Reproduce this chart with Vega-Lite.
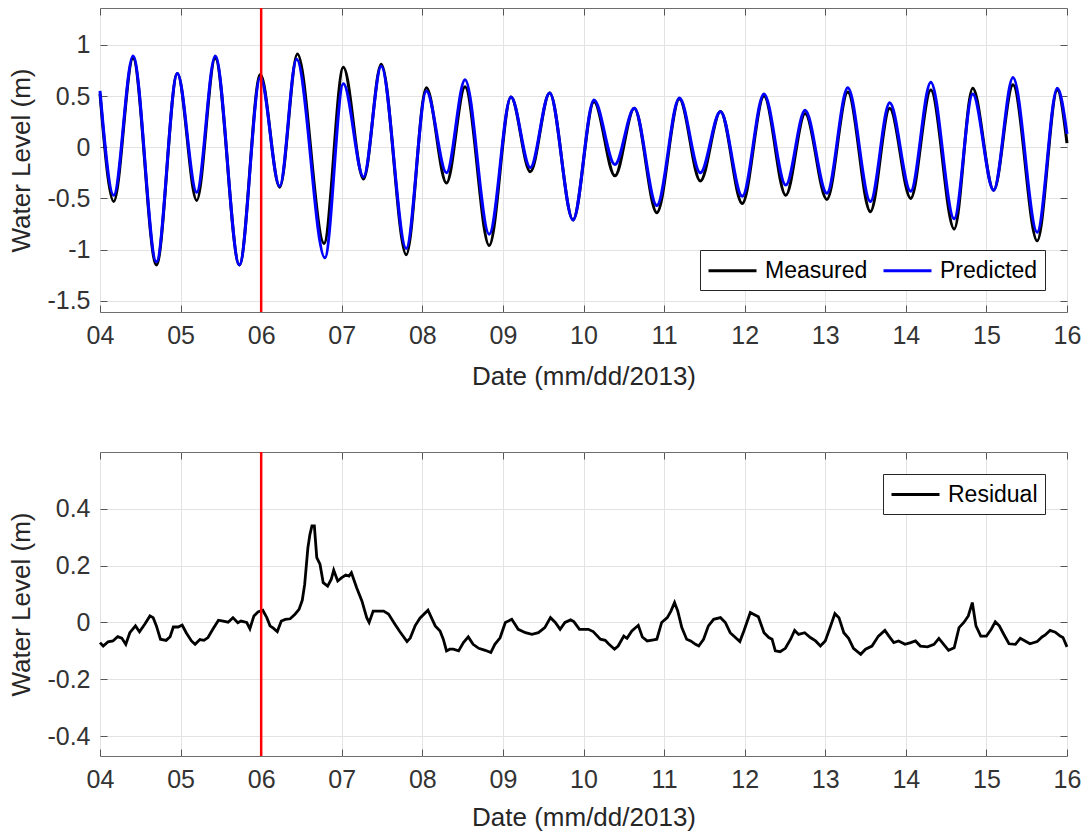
{
  "$schema": "https://vega.github.io/schema/vega-lite/v6.json",
  "padding": {"left": 8, "top": 6, "right": 2, "bottom": 2},
  "spacing": 140,
  "bounds": "flush",
  "datasets": {
    "marker": [{"day": 6}],
    "tide": [
      {"day": 4.00, "series": "Measured", "level": 0.52},
      {"day": 4.17, "series": "Measured", "level": -0.53},
      {"day": 4.41, "series": "Measured", "level": 0.87},
      {"day": 4.70, "series": "Measured", "level": -1.15},
      {"day": 4.96, "series": "Measured", "level": 0.72},
      {"day": 5.20, "series": "Measured", "level": -0.52},
      {"day": 5.43, "series": "Measured", "level": 0.87},
      {"day": 5.73, "series": "Measured", "level": -1.15},
      {"day": 5.99, "series": "Measured", "level": 0.71},
      {"day": 6.23, "series": "Measured", "level": -0.39},
      {"day": 6.45, "series": "Measured", "level": 0.91},
      {"day": 6.78, "series": "Measured", "level": -0.94},
      {"day": 7.02, "series": "Measured", "level": 0.78},
      {"day": 7.27, "series": "Measured", "level": -0.31},
      {"day": 7.49, "series": "Measured", "level": 0.81},
      {"day": 7.80, "series": "Measured", "level": -1.05},
      {"day": 8.05, "series": "Measured", "level": 0.58},
      {"day": 8.30, "series": "Measured", "level": -0.35},
      {"day": 8.53, "series": "Measured", "level": 0.59},
      {"day": 8.83, "series": "Measured", "level": -0.96},
      {"day": 9.10, "series": "Measured", "level": 0.49},
      {"day": 9.34, "series": "Measured", "level": -0.24},
      {"day": 9.58, "series": "Measured", "level": 0.53},
      {"day": 9.87, "series": "Measured", "level": -0.71},
      {"day": 10.13, "series": "Measured", "level": 0.445},
      {"day": 10.39, "series": "Measured", "level": -0.28},
      {"day": 10.63, "series": "Measured", "level": 0.38},
      {"day": 10.91, "series": "Measured", "level": -0.64},
      {"day": 11.19, "series": "Measured", "level": 0.47},
      {"day": 11.45, "series": "Measured", "level": -0.33},
      {"day": 11.70, "series": "Measured", "level": 0.35},
      {"day": 11.97, "series": "Measured", "level": -0.55},
      {"day": 12.24, "series": "Measured", "level": 0.50},
      {"day": 12.51, "series": "Measured", "level": -0.47},
      {"day": 12.75, "series": "Measured", "level": 0.33},
      {"day": 13.02, "series": "Measured", "level": -0.51},
      {"day": 13.28, "series": "Measured", "level": 0.54},
      {"day": 13.56, "series": "Measured", "level": -0.63},
      {"day": 13.80, "series": "Measured", "level": 0.38},
      {"day": 14.06, "series": "Measured", "level": -0.50},
      {"day": 14.31, "series": "Measured", "level": 0.56},
      {"day": 14.60, "series": "Measured", "level": -0.80},
      {"day": 14.83, "series": "Measured", "level": 0.575},
      {"day": 15.09, "series": "Measured", "level": -0.42},
      {"day": 15.33, "series": "Measured", "level": 0.61},
      {"day": 15.63, "series": "Measured", "level": -0.915},
      {"day": 15.88, "series": "Measured", "level": 0.56},
      {"day": 16.00, "series": "Measured", "level": 0.04},
      {"day": 4.00, "series": "Predicted", "level": 0.55},
      {"day": 4.17, "series": "Predicted", "level": -0.47},
      {"day": 4.41, "series": "Predicted", "level": 0.89},
      {"day": 4.70, "series": "Predicted", "level": -1.12},
      {"day": 4.96, "series": "Predicted", "level": 0.72},
      {"day": 5.20, "series": "Predicted", "level": -0.44},
      {"day": 5.43, "series": "Predicted", "level": 0.89},
      {"day": 5.73, "series": "Predicted", "level": -1.15},
      {"day": 5.99, "series": "Predicted", "level": 0.68},
      {"day": 6.23, "series": "Predicted", "level": -0.38},
      {"day": 6.44, "series": "Predicted", "level": 0.86},
      {"day": 6.79, "series": "Predicted", "level": -1.08},
      {"day": 7.02, "series": "Predicted", "level": 0.62},
      {"day": 7.27, "series": "Predicted", "level": -0.29},
      {"day": 7.49, "series": "Predicted", "level": 0.79},
      {"day": 7.80, "series": "Predicted", "level": -0.99},
      {"day": 8.05, "series": "Predicted", "level": 0.55},
      {"day": 8.30, "series": "Predicted", "level": -0.25},
      {"day": 8.53, "series": "Predicted", "level": 0.66},
      {"day": 8.83, "series": "Predicted", "level": -0.85},
      {"day": 9.10, "series": "Predicted", "level": 0.49},
      {"day": 9.34, "series": "Predicted", "level": -0.20},
      {"day": 9.58, "series": "Predicted", "level": 0.53},
      {"day": 9.87, "series": "Predicted", "level": -0.71},
      {"day": 10.13, "series": "Predicted", "level": 0.46},
      {"day": 10.39, "series": "Predicted", "level": -0.17},
      {"day": 10.63, "series": "Predicted", "level": 0.38},
      {"day": 10.91, "series": "Predicted", "level": -0.57},
      {"day": 11.19, "series": "Predicted", "level": 0.48},
      {"day": 11.45, "series": "Predicted", "level": -0.25},
      {"day": 11.70, "series": "Predicted", "level": 0.35},
      {"day": 11.97, "series": "Predicted", "level": -0.48},
      {"day": 12.24, "series": "Predicted", "level": 0.52},
      {"day": 12.51, "series": "Predicted", "level": -0.37},
      {"day": 12.75, "series": "Predicted", "level": 0.36},
      {"day": 13.02, "series": "Predicted", "level": -0.45},
      {"day": 13.28, "series": "Predicted", "level": 0.58},
      {"day": 13.56, "series": "Predicted", "level": -0.53},
      {"day": 13.80, "series": "Predicted", "level": 0.435},
      {"day": 14.06, "series": "Predicted", "level": -0.43},
      {"day": 14.31, "series": "Predicted", "level": 0.635},
      {"day": 14.60, "series": "Predicted", "level": -0.70},
      {"day": 14.83, "series": "Predicted", "level": 0.52},
      {"day": 15.09, "series": "Predicted", "level": -0.42},
      {"day": 15.33, "series": "Predicted", "level": 0.68},
      {"day": 15.63, "series": "Predicted", "level": -0.83},
      {"day": 15.88, "series": "Predicted", "level": 0.575},
      {"day": 16.00, "series": "Predicted", "level": 0.13}
    ],
    "residual": [
      {"day": 4.00, "series": "Residual", "level": -0.071},
      {"day": 4.04, "series": "Residual", "level": -0.083},
      {"day": 4.10, "series": "Residual", "level": -0.068},
      {"day": 4.16, "series": "Residual", "level": -0.065},
      {"day": 4.22, "series": "Residual", "level": -0.05},
      {"day": 4.27, "series": "Residual", "level": -0.055},
      {"day": 4.32, "series": "Residual", "level": -0.077},
      {"day": 4.37, "series": "Residual", "level": -0.036},
      {"day": 4.44, "series": "Residual", "level": -0.012},
      {"day": 4.49, "series": "Residual", "level": -0.033},
      {"day": 4.555, "series": "Residual", "level": -0.006},
      {"day": 4.62, "series": "Residual", "level": 0.023},
      {"day": 4.66, "series": "Residual", "level": 0.017},
      {"day": 4.70, "series": "Residual", "level": -0.012},
      {"day": 4.75, "series": "Residual", "level": -0.059},
      {"day": 4.82, "series": "Residual", "level": -0.063},
      {"day": 4.87, "series": "Residual", "level": -0.05},
      {"day": 4.91, "series": "Residual", "level": -0.016},
      {"day": 4.97, "series": "Residual", "level": -0.016},
      {"day": 5.02, "series": "Residual", "level": -0.009},
      {"day": 5.07, "series": "Residual", "level": -0.036},
      {"day": 5.135, "series": "Residual", "level": -0.065},
      {"day": 5.18, "series": "Residual", "level": -0.077},
      {"day": 5.24, "series": "Residual", "level": -0.06},
      {"day": 5.29, "series": "Residual", "level": -0.063},
      {"day": 5.34, "series": "Residual", "level": -0.053},
      {"day": 5.40, "series": "Residual", "level": -0.024},
      {"day": 5.47, "series": "Residual", "level": 0.008},
      {"day": 5.53, "series": "Residual", "level": 0.005},
      {"day": 5.59, "series": "Residual", "level": 0.001},
      {"day": 5.65, "series": "Residual", "level": 0.017},
      {"day": 5.71, "series": "Residual", "level": -0.001},
      {"day": 5.75, "series": "Residual", "level": 0.005},
      {"day": 5.82, "series": "Residual", "level": 0.0},
      {"day": 5.86, "series": "Residual", "level": -0.022},
      {"day": 5.91, "series": "Residual", "level": 0.023},
      {"day": 5.96, "series": "Residual", "level": 0.037},
      {"day": 6.02, "series": "Residual", "level": 0.043},
      {"day": 6.07, "series": "Residual", "level": 0.017},
      {"day": 6.11, "series": "Residual", "level": -0.012},
      {"day": 6.15, "series": "Residual", "level": -0.02},
      {"day": 6.20, "series": "Residual", "level": -0.032},
      {"day": 6.25, "series": "Residual", "level": 0.005},
      {"day": 6.30, "series": "Residual", "level": 0.011},
      {"day": 6.36, "series": "Residual", "level": 0.013},
      {"day": 6.42, "series": "Residual", "level": 0.029},
      {"day": 6.47, "series": "Residual", "level": 0.046},
      {"day": 6.51, "series": "Residual", "level": 0.078},
      {"day": 6.54, "series": "Residual", "level": 0.134},
      {"day": 6.58, "series": "Residual", "level": 0.263},
      {"day": 6.605, "series": "Residual", "level": 0.31},
      {"day": 6.63, "series": "Residual", "level": 0.34},
      {"day": 6.66, "series": "Residual", "level": 0.34},
      {"day": 6.69, "series": "Residual", "level": 0.228},
      {"day": 6.73, "series": "Residual", "level": 0.205},
      {"day": 6.77, "series": "Residual", "level": 0.14},
      {"day": 6.825, "series": "Residual", "level": 0.128},
      {"day": 6.87, "series": "Residual", "level": 0.152},
      {"day": 6.90, "series": "Residual", "level": 0.184},
      {"day": 6.95, "series": "Residual", "level": 0.146},
      {"day": 7.00, "series": "Residual", "level": 0.158},
      {"day": 7.05, "series": "Residual", "level": 0.167},
      {"day": 7.09, "series": "Residual", "level": 0.163},
      {"day": 7.12, "series": "Residual", "level": 0.175},
      {"day": 7.185, "series": "Residual", "level": 0.122},
      {"day": 7.25, "series": "Residual", "level": 0.076},
      {"day": 7.31, "series": "Residual", "level": 0.017},
      {"day": 7.34, "series": "Residual", "level": 0.0},
      {"day": 7.39, "series": "Residual", "level": 0.04},
      {"day": 7.52, "series": "Residual", "level": 0.04},
      {"day": 7.58, "series": "Residual", "level": 0.03},
      {"day": 7.66, "series": "Residual", "level": -0.006},
      {"day": 7.72, "series": "Residual", "level": -0.032},
      {"day": 7.81, "series": "Residual", "level": -0.067},
      {"day": 7.85, "series": "Residual", "level": -0.055},
      {"day": 7.91, "series": "Residual", "level": -0.012},
      {"day": 7.97, "series": "Residual", "level": 0.015},
      {"day": 8.07, "series": "Residual", "level": 0.043},
      {"day": 8.16, "series": "Residual", "level": -0.012},
      {"day": 8.22, "series": "Residual", "level": -0.03},
      {"day": 8.26, "series": "Residual", "level": -0.059},
      {"day": 8.30, "series": "Residual", "level": -0.10},
      {"day": 8.34, "series": "Residual", "level": -0.094},
      {"day": 8.385, "series": "Residual", "level": -0.094},
      {"day": 8.45, "series": "Residual", "level": -0.10},
      {"day": 8.51, "series": "Residual", "level": -0.071},
      {"day": 8.57, "series": "Residual", "level": -0.051},
      {"day": 8.63, "series": "Residual", "level": -0.077},
      {"day": 8.70, "series": "Residual", "level": -0.091},
      {"day": 8.78, "series": "Residual", "level": -0.098},
      {"day": 8.85, "series": "Residual", "level": -0.106},
      {"day": 8.90, "series": "Residual", "level": -0.077},
      {"day": 8.965, "series": "Residual", "level": -0.054},
      {"day": 9.03, "series": "Residual", "level": 0.0},
      {"day": 9.11, "series": "Residual", "level": 0.011},
      {"day": 9.19, "series": "Residual", "level": -0.024},
      {"day": 9.28, "series": "Residual", "level": -0.036},
      {"day": 9.36, "series": "Residual", "level": -0.042},
      {"day": 9.44, "series": "Residual", "level": -0.036},
      {"day": 9.52, "series": "Residual", "level": -0.018},
      {"day": 9.59, "series": "Residual", "level": 0.017},
      {"day": 9.65, "series": "Residual", "level": 0.0},
      {"day": 9.71, "series": "Residual", "level": -0.024},
      {"day": 9.77, "series": "Residual", "level": 0.0},
      {"day": 9.84, "series": "Residual", "level": 0.009},
      {"day": 9.88, "series": "Residual", "level": 0.003},
      {"day": 9.95, "series": "Residual", "level": -0.024},
      {"day": 10.01, "series": "Residual", "level": -0.024},
      {"day": 10.06, "series": "Residual", "level": -0.024},
      {"day": 10.12, "series": "Residual", "level": -0.032},
      {"day": 10.21, "series": "Residual", "level": -0.059},
      {"day": 10.27, "series": "Residual", "level": -0.063},
      {"day": 10.31, "series": "Residual", "level": -0.075},
      {"day": 10.385, "series": "Residual", "level": -0.094},
      {"day": 10.43, "series": "Residual", "level": -0.083},
      {"day": 10.50, "series": "Residual", "level": -0.048},
      {"day": 10.54, "series": "Residual", "level": -0.056},
      {"day": 10.60, "series": "Residual", "level": -0.03},
      {"day": 10.68, "series": "Residual", "level": -0.01},
      {"day": 10.73, "series": "Residual", "level": -0.051},
      {"day": 10.79, "series": "Residual", "level": -0.065},
      {"day": 10.87, "series": "Residual", "level": -0.061},
      {"day": 10.91, "series": "Residual", "level": -0.059},
      {"day": 10.97, "series": "Residual", "level": 0.0},
      {"day": 11.04, "series": "Residual", "level": 0.017},
      {"day": 11.085, "series": "Residual", "level": 0.04},
      {"day": 11.13, "series": "Residual", "level": 0.07},
      {"day": 11.17, "series": "Residual", "level": 0.04},
      {"day": 11.22, "series": "Residual", "level": -0.018},
      {"day": 11.28, "series": "Residual", "level": -0.059},
      {"day": 11.33, "series": "Residual", "level": -0.065},
      {"day": 11.39, "series": "Residual", "level": -0.077},
      {"day": 11.43, "series": "Residual", "level": -0.083},
      {"day": 11.49, "series": "Residual", "level": -0.059},
      {"day": 11.55, "series": "Residual", "level": -0.012},
      {"day": 11.615, "series": "Residual", "level": 0.011},
      {"day": 11.70, "series": "Residual", "level": 0.017},
      {"day": 11.76, "series": "Residual", "level": 0.0},
      {"day": 11.82, "series": "Residual", "level": -0.036},
      {"day": 11.885, "series": "Residual", "level": -0.053},
      {"day": 11.94, "series": "Residual", "level": -0.067},
      {"day": 11.99, "series": "Residual", "level": -0.03},
      {"day": 12.07, "series": "Residual", "level": 0.035},
      {"day": 12.11, "series": "Residual", "level": 0.029},
      {"day": 12.17, "series": "Residual", "level": 0.02},
      {"day": 12.24, "series": "Residual", "level": -0.036},
      {"day": 12.30, "series": "Residual", "level": -0.053},
      {"day": 12.34, "series": "Residual", "level": -0.059},
      {"day": 12.38, "series": "Residual", "level": -0.10},
      {"day": 12.44, "series": "Residual", "level": -0.103},
      {"day": 12.505, "series": "Residual", "level": -0.091},
      {"day": 12.57, "series": "Residual", "level": -0.059},
      {"day": 12.62, "series": "Residual", "level": -0.028},
      {"day": 12.67, "series": "Residual", "level": -0.042},
      {"day": 12.745, "series": "Residual", "level": -0.036},
      {"day": 12.815, "series": "Residual", "level": -0.053},
      {"day": 12.88, "series": "Residual", "level": -0.065},
      {"day": 12.94, "series": "Residual", "level": -0.083},
      {"day": 13.00, "series": "Residual", "level": -0.065},
      {"day": 13.06, "series": "Residual", "level": -0.018},
      {"day": 13.12, "series": "Residual", "level": 0.031},
      {"day": 13.17, "series": "Residual", "level": 0.017},
      {"day": 13.23, "series": "Residual", "level": -0.036},
      {"day": 13.29, "series": "Residual", "level": -0.056},
      {"day": 13.35, "series": "Residual", "level": -0.091},
      {"day": 13.44, "series": "Residual", "level": -0.112},
      {"day": 13.50, "series": "Residual", "level": -0.094},
      {"day": 13.58, "series": "Residual", "level": -0.083},
      {"day": 13.66, "series": "Residual", "level": -0.048},
      {"day": 13.74, "series": "Residual", "level": -0.028},
      {"day": 13.79, "series": "Residual", "level": -0.048},
      {"day": 13.85, "series": "Residual", "level": -0.071},
      {"day": 13.91, "series": "Residual", "level": -0.065},
      {"day": 13.99, "series": "Residual", "level": -0.077},
      {"day": 14.06, "series": "Residual", "level": -0.071},
      {"day": 14.12, "series": "Residual", "level": -0.065},
      {"day": 14.18, "series": "Residual", "level": -0.083},
      {"day": 14.27, "series": "Residual", "level": -0.086},
      {"day": 14.35, "series": "Residual", "level": -0.077},
      {"day": 14.41, "series": "Residual", "level": -0.056},
      {"day": 14.47, "series": "Residual", "level": -0.077},
      {"day": 14.53, "series": "Residual", "level": -0.098},
      {"day": 14.60, "series": "Residual", "level": -0.089},
      {"day": 14.66, "series": "Residual", "level": -0.018},
      {"day": 14.72, "series": "Residual", "level": 0.0},
      {"day": 14.775, "series": "Residual", "level": 0.023},
      {"day": 14.825, "series": "Residual", "level": 0.07},
      {"day": 14.87, "series": "Residual", "level": -0.012},
      {"day": 14.93, "series": "Residual", "level": -0.048},
      {"day": 15.00, "series": "Residual", "level": -0.048},
      {"day": 15.06, "series": "Residual", "level": -0.024},
      {"day": 15.11, "series": "Residual", "level": 0.002},
      {"day": 15.16, "series": "Residual", "level": -0.012},
      {"day": 15.22, "series": "Residual", "level": -0.044},
      {"day": 15.28, "series": "Residual", "level": -0.075},
      {"day": 15.36, "series": "Residual", "level": -0.077},
      {"day": 15.42, "series": "Residual", "level": -0.056},
      {"day": 15.48, "series": "Residual", "level": -0.065},
      {"day": 15.54, "series": "Residual", "level": -0.075},
      {"day": 15.63, "series": "Residual", "level": -0.067},
      {"day": 15.69, "series": "Residual", "level": -0.051},
      {"day": 15.73, "series": "Residual", "level": -0.044},
      {"day": 15.79, "series": "Residual", "level": -0.028},
      {"day": 15.855, "series": "Residual", "level": -0.034},
      {"day": 15.915, "series": "Residual", "level": -0.048},
      {"day": 15.95, "series": "Residual", "level": -0.053},
      {"day": 16.00, "series": "Residual", "level": -0.086}
    ]
  },
  "vconcat": [
    {
      "width": 967,
      "height": 304,
      "layer": [
        {
          "data": {"name": "tide"},
          "mark": {"type": "line", "interpolate": "monotone", "strokeWidth": 3},
          "encoding": {
            "x": {"field": "day", "type": "quantitative", "scale": {"domain": [4, 16], "nice": false, "zero": false},
                  "axis": {"orient": "bottom", "values": [4,5,6,7,8,9,10,11,12,13,14,15,16], "format": "02d", "title": "Date (mm/dd/2013)", "labelPadding": 18, "titlePadding": 15}},
            "y": {"field": "level", "type": "quantitative", "scale": {"domain": [-1.61, 1.36], "nice": false, "zero": false},
                  "axis": {"orient": "left", "values": [-1.5,-1,-0.5,0,0.5,1], "format": "~g", "title": "Water Level (m)", "labelPadding": 17, "titlePadding": 12}},
            "color": {"field": "series", "type": "nominal", "scale": {"domain": ["Measured", "Predicted"], "range": ["#000000", "#0000ff"]},
                      "legend": {"title": null, "orient": "bottom-right", "offset": 22, "direction": "horizontal"}}
          }
        },
        {
          "data": {"name": "marker"},
          "mark": {"type": "rule", "color": "#ff0000", "strokeWidth": 2.5},
          "encoding": {
            "x": {"field": "day", "type": "quantitative",
                  "axis": {"orient": "top", "values": [4,5,6,7,8,9,10,11,12,13,14,15,16], "labels": false, "title": null, "grid": false}},
            "y": {"datum": -1.61, "type": "quantitative",
                  "axis": {"orient": "right", "values": [-1.5,-1,-0.5,0,0.5,1], "labels": false, "title": null, "grid": false}},
            "y2": {"datum": 1.36}
          }
        }
      ],
      "resolve": {"axis": {"x": "independent", "y": "independent"}}
    },
    {
      "width": 967,
      "height": 304,
      "layer": [
        {
          "data": {"name": "residual"},
          "mark": {"type": "line", "strokeWidth": 2.8},
          "encoding": {
            "x": {"field": "day", "type": "quantitative", "scale": {"domain": [4, 16], "nice": false, "zero": false},
                  "axis": {"orient": "bottom", "values": [4,5,6,7,8,9,10,11,12,13,14,15,16], "format": "02d", "title": "Date (mm/dd/2013)", "labelPadding": 18, "titlePadding": 12}},
            "y": {"field": "level", "type": "quantitative", "scale": {"domain": [-0.47, 0.6], "nice": false, "zero": false},
                  "axis": {"orient": "left", "values": [-0.4,-0.2,0,0.2,0.4], "format": "~g", "title": "Water Level (m)", "labelPadding": 17, "titlePadding": 12}},
            "color": {"field": "series", "type": "nominal", "scale": {"domain": ["Residual"], "range": ["#000000"]},
                      "legend": {"title": null, "orient": "top-right", "offset": 22, "direction": "horizontal"}}
          }
        },
        {
          "data": {"name": "marker"},
          "mark": {"type": "rule", "color": "#ff0000", "strokeWidth": 2.5},
          "encoding": {
            "x": {"field": "day", "type": "quantitative",
                  "axis": {"orient": "top", "values": [4,5,6,7,8,9,10,11,12,13,14,15,16], "labels": false, "title": null, "grid": false}},
            "y": {"datum": -0.47, "type": "quantitative",
                  "axis": {"orient": "right", "values": [-0.4,-0.2,0,0.2,0.4], "labels": false, "title": null, "grid": false}},
            "y2": {"datum": 0.6}
          }
        }
      ],
      "resolve": {"axis": {"x": "independent", "y": "independent"}}
    }
  ],
  "resolve": {"scale": {"color": "independent"}},
  "config": {
    "font": "Liberation Sans",
    "view": {"stroke": "#6e6e6e", "strokeWidth": 1},
    "locale": {"number": {"decimal": ".", "thousands": ",", "grouping": [3], "currency": ["$", ""], "minus": "-"}},
    "axis": {
      "labelFont": "Liberation Sans", "labelFontSize": 25, "labelColor": "#333333",
      "titleFont": "Liberation Sans", "titleFontSize": 26, "titleFontWeight": "normal", "titleColor": "#262626",
      "tickColor": "#555555", "tickSize": -7, "tickWidth": 1,
      "gridColor": "#e3e3e3", "gridWidth": 1,
      "domain": false, "labelOverlap": false, "labelFlush": false
    },
    "legend": {
      "symbolType": "M-2,0H2", "symbolSize": 576, "symbolStrokeWidth": 3, "symbolOffset": 12,
      "labelFont": "Liberation Sans", "labelFontSize": 23, "labelColor": "#000000",
      "strokeColor": "#262626", "fillColor": "#ffffff", "padding": 7,
      "columnPadding": 9, "labelOffset": 19, "cornerRadius": 0
    }
  }
}
